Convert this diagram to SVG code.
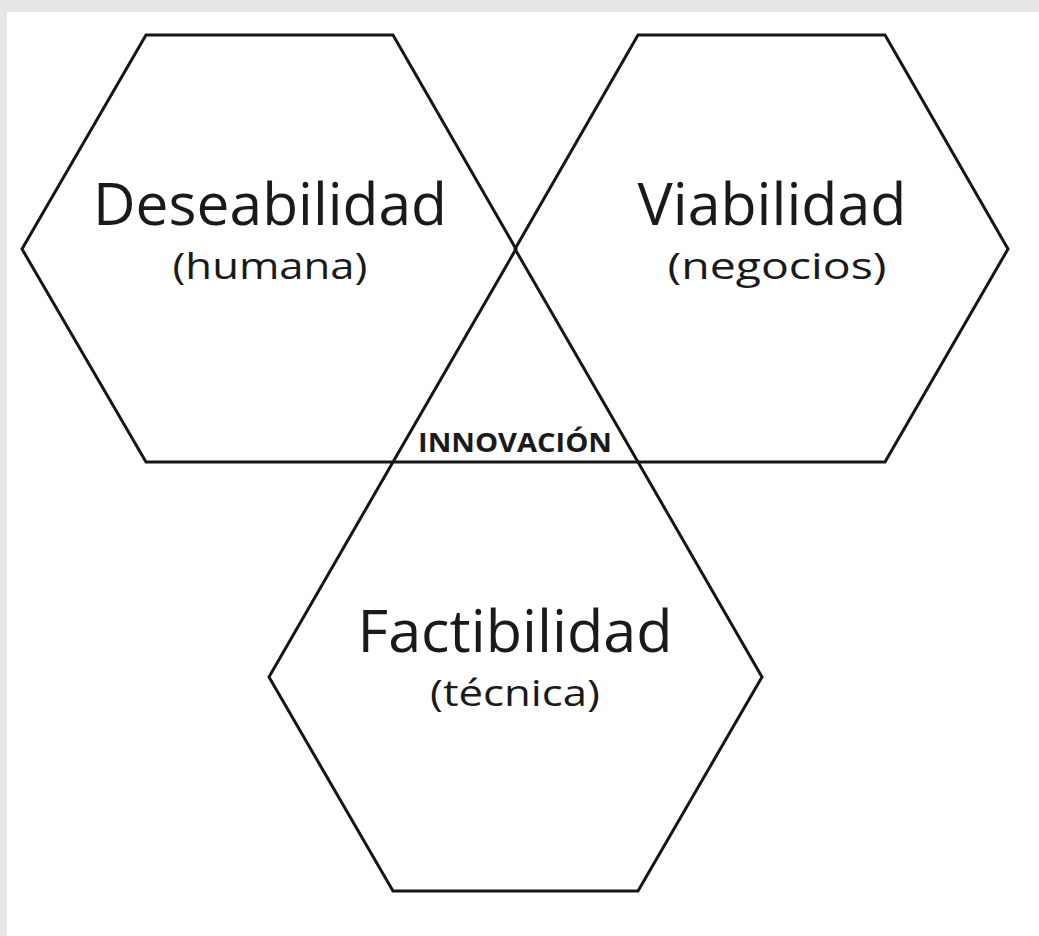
<svg xmlns="http://www.w3.org/2000/svg" width="1039" height="936" viewBox="0 0 1039 936">
<style>
.hex{fill:none;stroke:#161616;stroke-width:3;stroke-linejoin:miter}
.t{font-family:"Open Sans","Noto Sans","Liberation Sans",sans-serif;fill:#1a1a1a;text-anchor:middle}
.big{font-size:58px}
.sub{font-size:36px}
.inn{font-size:26px;font-weight:bold}
</style>
<rect x="0" y="0" width="1039" height="936" fill="#e6e7e6"/>
<rect x="7" y="12" width="1032" height="924" fill="#ffffff"/>
<g id="connectors"></g>
<g id="deseabilidad">
<polygon class="hex" points="146,35 393,35 516,249 393,462 146,462 22,249"/>
<text class="t big" x="270" y="225" textLength="354" lengthAdjust="spacingAndGlyphs">Deseabilidad</text>
<text class="t sub" x="270" y="279" textLength="195" lengthAdjust="spacingAndGlyphs">(humana)</text>
</g>
<g id="viabilidad">
<polygon class="hex" points="638,35 885,35 1008,249 885,462 638,462 515,249"/>
<text class="t big" x="772" y="225" textLength="269" lengthAdjust="spacingAndGlyphs">Viabilidad</text>
<text class="t sub" x="777" y="279" textLength="219" lengthAdjust="spacingAndGlyphs">(negocios)</text>
</g>
<g id="factibilidad">
<polygon class="hex" points="393,462 638,462 762,677 638,891 393,891 269,677"/>
<text class="t big" x="515" y="652" textLength="315" lengthAdjust="spacingAndGlyphs">Factibilidad</text>
<text class="t sub" x="515" y="706" textLength="170" lengthAdjust="spacingAndGlyphs">(técnica)</text>
</g>
<g id="innovacion">
<text class="t inn" x="515" y="452" textLength="194" lengthAdjust="spacingAndGlyphs">INNOVACIÓN</text>
</g>
</svg>
